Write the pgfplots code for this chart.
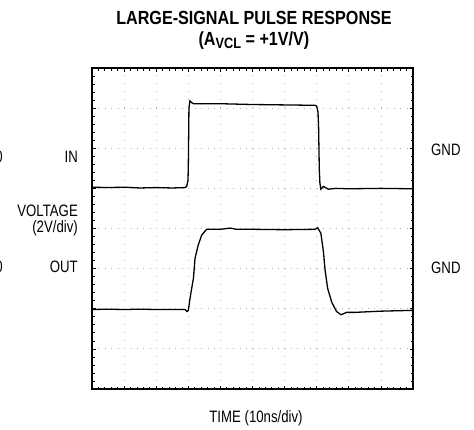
\documentclass[border=0pt]{standalone}
\usepackage{fontspec}
\setmainfont{Liberation Sans}[FakeStretch=0.8]
\newfontfamily\titlefont{Liberation Sans}[FakeStretch=0.85]
\usepackage{pgfplots}
\pgfplotsset{compat=1.18}
\begin{document}
\begin{tikzpicture}
\useasboundingbox (0,0) rectangle (474pt,429pt);
\begin{axis}[
  at={(92pt,40pt)}, anchor=south west,
  width=321pt, height=321pt, scale only axis,
  xmin=0, xmax=10, ymin=0, ymax=8,
  xtick={0,...,10}, ytick={0,...,8},
  minor x tick num=4, minor y tick num=4,
  xticklabels={}, yticklabels={},
  tick align=inside,
  major tick length=3.5pt, minor tick length=2.5pt,
  tick style={black, line width=0.7pt},
  grid=major,
  x grid style={gray!60, line width=0.8pt, dash pattern=on 0.8pt off 7.22pt},
  y grid style={gray!60, line width=0.8pt, dash pattern=on 0.8pt off 5.62pt},
  axis line style={line width=1.3pt},
]
\addplot[black, line width=1.3pt] coordinates {
(0,5.03) (0.5,5.02) (1,5.03) (1.5,5.01) (2,5.02) (2.5,5.01) (2.9,5.02)
(2.95,5.05) (2.99,5.2) (3.00,5.5) (3.02,7.0) (3.05,7.18) (3.1,7.14) (3.16,7.11)
(4,7.11) (5,7.09) (6,7.08) (6.95,7.07) (7.0,7.05) (7.04,6.9) (7.06,6.5)
(7.08,5.5) (7.10,5.13) (7.13,4.98) (7.21,5.05) (7.36,4.98) (7.6,5.0)
(8,4.99) (9,5.0) (10,4.99)
};
\addplot[black, line width=1.3pt] coordinates {
(0,1.98) (0.5,1.99) (1,1.98) (1.5,1.99) (2,1.98) (2.5,1.98) (2.9,1.98)
(2.96,1.93) (3.0,1.96) (3.07,2.34) (3.16,2.76) (3.21,3.26) (3.31,3.59)
(3.42,3.84) (3.57,3.98) (4,3.98) (4.3,4.01) (4.5,3.98) (5,3.98) (6,3.97)
(6.95,3.98) (7.03,4.02) (7.13,3.88) (7.21,3.42) (7.26,2.97) (7.34,2.51)
(7.47,2.16) (7.62,1.93) (7.76,1.85) (7.93,1.91) (8.19,1.91) (9,1.94) (10,1.96)
};
\end{axis}
\begin{scope}[every node/.style={inner sep=0pt, font=\fontsize{16.5}{18}\selectfont}]
\node[anchor=east] at (3pt,272pt) {0};
\node[anchor=east] at (3pt,162pt) {0};
\node[anchor=east] at (78pt,272pt) {IN};
\node[anchor=east] at (78pt,218pt) {VOLTAGE};
\node[anchor=east] at (78pt,201pt) {(2V/div)};
\node[anchor=east] at (78pt,162pt) {OUT};
\node[anchor=west] at (431pt,279pt) {GND};
\node[anchor=west] at (431pt,161pt) {GND};
\node at (256pt,11pt) {TIME (10ns/div)};
\end{scope}
\node[inner sep=0pt, font=\fontsize{19}{21}\selectfont\titlefont\bfseries] at (254pt,411.5pt) {LARGE-SIGNAL PULSE RESPONSE};
\node[inner sep=0pt, font=\fontsize{19}{21}\selectfont\titlefont\bfseries] at (254pt,388pt) {(A\raisebox{-3pt}{\fontsize{15}{17}\selectfont VCL} = +1V/V)};
\end{tikzpicture}
\end{document}
